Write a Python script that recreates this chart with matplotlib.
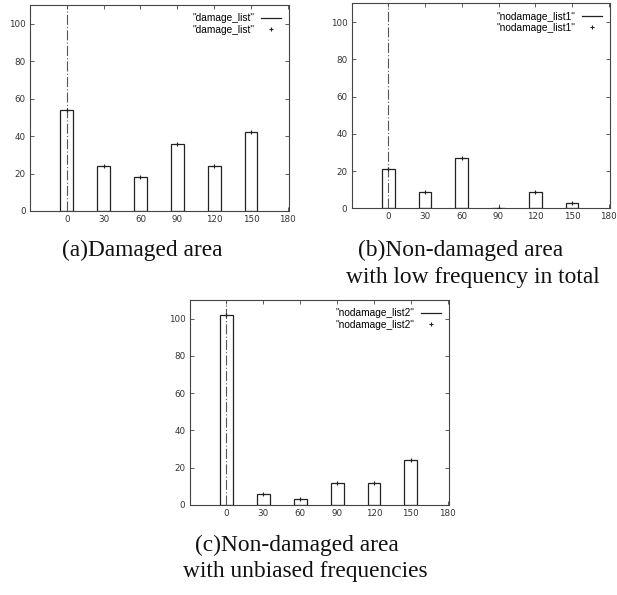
import matplotlib
matplotlib.use("Agg")
import matplotlib.pyplot as plt
from matplotlib.lines import Line2D
import numpy as np

# angle bins and counts
angles = [0, 30, 60, 90, 120, 150]
damage_list = [54, 24, 18, 36, 24, 42]
nodamage_list1 = [21, 9, 27, 0, 9, 3]
nodamage_list2 = [102, 6, 3, 12, 12, 24]

xticks = [0, 30, 60, 90, 120, 150, 180]
yticks = [0, 20, 40, 60, 80, 100]

W, H = 617, 595
fig = plt.figure(figsize=(W / 100, H / 100), dpi=100)


def box(l, t, r, b):
    # pixel box -> figure fraction
    return [l / W, (H - b) / H, (r - l) / W, (b - t) / H]


def panel(rect, values, name):
    ax = fig.add_axes(rect)
    ax.bar(angles, values, width=10.5, facecolor="white", edgecolor="#222222",
           linewidth=0.9, zorder=2)
    ax.plot(angles, values, ls="none", marker="+", ms=3, mew=0.8,
            color="#222222", zorder=4)
    ax.axvline(0, color="#555555", lw=0.8, ls=(0, (9, 2, 1, 2)), zorder=3)
    ax.set_xlim(-30, 181)
    ax.set_ylim(0, 110)
    ax.set_xticks(xticks)
    ax.set_yticks(yticks)
    ax.tick_params(direction="in", top=True, right=True, length=3,
                   width=0.6, labelsize=6.3, labelcolor="#333333",
                   color="#444444", pad=3)
    for s in ax.spines.values():
        s.set_color("#444444")
        s.set_linewidth(0.8)
    for lab in ax.get_xticklabels() + ax.get_yticklabels():
        lab.set_fontfamily("DejaVu Sans")
    handles = [Line2D([], [], color="#222222", lw=0.9),
               Line2D([], [], ls="none", marker="+", ms=3, mew=0.8,
                      color="#222222")]
    labels = ['"%s"' % name, '"%s"' % name]
    ax.legend(handles, labels, loc="upper right", frameon=False,
              markerfirst=False, handlelength=2.0, handletextpad=0.6,
              labelspacing=0.15, borderaxespad=0.4,
              prop={"family": "Liberation Sans", "size": 7.3})
    return ax


panel(box(30, 5, 289, 211), damage_list, "damage_list")
panel(box(351.5, 3.4, 610, 208.3), nodamage_list1, "nodamage_list1")
panel(box(189.5, 300, 449, 505), nodamage_list2, "nodamage_list2")

cap = {"family": "Liberation Serif", "size": 16.8, "color": "#111111"}


def caption(x, y, s):
    fig.text(x / W, 1 - y / H, s, ha="center", va="center", **cap)


caption(142, 250, "(a)Damaged area")
caption(461, 250, "(b)Non-damaged area")
caption(473, 277, "with low frequency in total")
caption(297, 545, "(c)Non-damaged area")
caption(305, 571, "with unbiased frequencies")

fig.savefig("out.png", dpi=100)
